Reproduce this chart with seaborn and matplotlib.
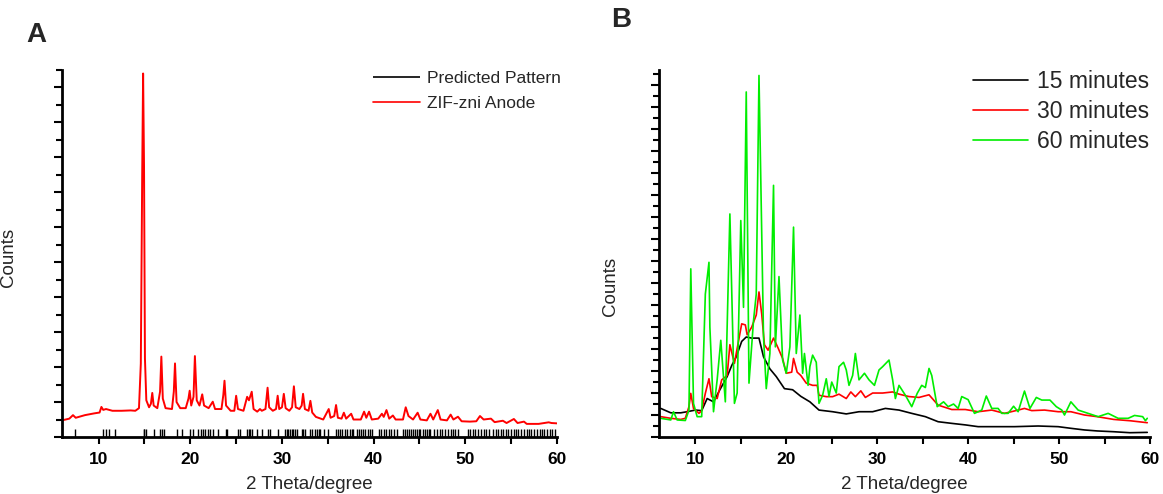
import numpy as np
import pandas as pd
import seaborn as sns
import matplotlib.pyplot as plt
from matplotlib.ticker import MultipleLocator, NullFormatter

# Panel A: ZIF-zni anode pattern (2theta, counts)
zif_theta = [6.0, 6.8, 7.2, 7.5, 8.5, 9.5, 10.1, 10.3, 10.5, 10.8, 11.5, 12.5, 13.5, 14.0,
             14.4, 14.6, 14.75, 14.85, 14.95, 15.05, 15.2, 15.5, 15.7, 15.85, 16.0, 16.4,
             16.7, 16.84, 17.0, 17.3, 18.0, 18.2, 18.33, 18.5, 18.9, 19.5, 19.8, 19.93,
             20.1, 20.35, 20.5, 20.7, 21.0, 21.3, 21.5, 22.0, 22.45, 22.7, 23.4, 23.6,
             23.73, 23.9, 24.4, 24.8, 25.0, 25.2, 25.8, 26.2, 26.4, 26.7, 26.9, 27.3,
             27.6, 27.8, 28.2, 28.43, 28.6, 29.0, 29.35, 29.53, 29.7, 30.0, 30.2, 30.4,
             30.8, 31.1, 31.3, 31.5, 31.9, 32.15, 32.3, 32.5, 32.9, 33.1, 33.3, 33.7,
             34.5, 35.1, 35.3, 35.7, 35.9, 36.1, 36.5, 36.75, 37.0, 37.55, 37.8, 38.6,
             38.96, 39.2, 39.5, 39.8, 40.5, 40.9, 41.1, 41.4, 41.7, 42.1, 42.4, 43.2,
             43.5, 43.8, 44.3, 44.8, 45.1, 45.8, 46.2, 46.5, 47.0, 47.3, 48.0, 48.4,
             48.7, 49.2, 49.6, 50.5, 51.2, 51.6, 52.0, 52.8, 53.2, 54.1, 54.5, 55.3,
             55.7, 56.4, 56.7, 58.0, 59.1, 59.4, 60.0]
zif_counts = [95, 105, 125, 110, 125, 135, 140, 172, 155, 160, 150, 150, 152, 150,
              165, 420, 1500, 2080, 1550, 450, 210, 170, 190, 252, 180, 165,
              260, 460, 220, 165, 160, 260, 421, 200, 165, 165, 220, 265,
              180, 230, 463, 210, 180, 244, 180, 165, 202, 160, 160, 240,
              322, 180, 150, 150, 236, 160, 150, 230, 210, 259, 160, 145,
              160, 150, 160, 282, 170, 150, 160, 236, 160, 170, 247, 165,
              150, 170, 290, 170, 160, 180, 247, 160, 150, 207, 140, 115,
              100, 160, 110, 120, 183, 110, 105, 139, 105, 133, 100, 100,
              145, 110, 145, 100, 105, 133, 115, 154, 105, 123, 100, 100,
              170, 120, 100, 139, 100, 95, 133, 100, 154, 100, 95, 128,
              100, 116, 90, 88, 90, 120, 100, 105, 85, 93, 80, 103,
              80, 88, 75, 75, 84, 80, 78]

# Predicted reflection positions (2theta)
predicted_theta = [7.45, 10.47, 10.8, 11.1, 11.8, 14.9, 15.0, 15.2, 16.0, 16.7, 16.9, 17.1,
                   18.5, 19.1, 20.0, 20.3, 20.85, 21.2, 21.4, 21.6, 21.9, 22.1, 22.5, 23.0,
                   23.9, 24.0, 25.2, 25.4, 26.2, 26.35, 26.5, 26.7, 27.3, 27.8, 28.5, 28.7,
                   29.6, 30.3, 30.5, 30.7, 30.9, 31.1, 31.2, 31.4, 31.6, 32.2, 32.3, 32.5,
                   33.1, 33.3, 33.55, 33.8, 34.0, 34.2, 34.55, 35.0, 35.9, 36.1, 36.35,
                   36.55, 36.85, 37.1, 37.4, 37.6, 37.8, 38.2, 38.4, 38.6, 38.85, 39.1,
                   39.35, 39.55, 39.85, 40.55, 40.8, 41.1, 41.4, 41.7, 41.9, 42.2, 42.5,
                   43.2, 43.4, 43.65, 43.85, 44.1, 44.3, 44.5, 44.7, 44.9, 45.1, 45.35,
                   45.55, 45.8, 46.0, 46.2, 46.6, 46.9, 47.2, 47.5, 47.8, 48.1, 48.4, 48.7,
                   48.9, 49.2, 50.3, 50.5, 50.8, 51.1, 51.4, 51.7, 52.0, 52.3, 52.6, 53.0,
                   53.3, 53.6, 53.85, 54.1, 54.4, 54.7, 55.0, 55.3, 55.55, 55.8, 56.1,
                   56.4, 56.7, 56.95, 57.2, 57.5, 57.8, 58.1, 58.35, 58.6, 58.9, 59.2,
                   59.5, 59.8]

# Panel B: reaction time series
m15_theta = [6.2, 7.3, 8.4, 9.1, 10.0, 10.7, 11.3, 12.0, 12.7, 13.5, 14.0, 14.5, 15.1,
             15.6, 16.2, 17.0, 17.5, 18.2, 18.9, 19.8, 20.7, 21.6, 22.6, 23.6, 25.1,
             26.6, 28.0, 29.5, 30.9, 32.4, 33.8, 35.3, 36.7, 38.2, 39.7, 41.1, 43.3,
             45.1, 47.7, 49.9, 51.3, 52.8, 54.2, 56.0, 57.8, 59.7]
m15_counts = [26, 22, 22, 23, 24.5, 24, 35, 32, 43, 55, 65, 73, 87,
              91, 90, 90, 73, 62, 55, 44, 43, 37, 32, 24.5, 23,
              21, 23, 23, 26, 24.5, 21.5, 18.5, 13.9, 12.4, 11, 9.4, 9.4,
              9.4, 10, 9.4, 7.9, 6.4, 5.5, 4.8, 3.9, 4.2]

m30_theta = [6.2, 7.3, 8.4, 8.9, 9.3, 9.5, 9.8, 10.4, 10.7, 11.1, 11.5, 11.8, 12.4,
             12.9, 13.5, 13.8, 14.3, 14.7, 15.1, 15.5, 15.7, 16.2, 16.7, 17.0, 17.3,
             17.6, 18.0, 18.6, 19.1, 19.6, 20.0, 20.6, 20.8, 21.2, 21.6, 22.2, 22.9,
             23.4, 23.6, 24.4, 25.1, 25.8, 26.6, 27.1, 27.6, 28.2, 28.7, 29.5, 30.6,
             31.7, 32.4, 33.5, 34.6, 35.7, 36.7, 38.2, 39.7, 41.1, 42.6, 44.0, 45.5,
             46.2, 47.0, 48.4, 49.9, 51.3, 52.8, 54.2, 56.0, 57.8, 59.7]
m30_counts = [18.5, 17, 16, 17, 27.6, 39.7, 26, 21.5, 24, 39.7, 53, 36.7, 35,
              52, 56, 84, 67, 85, 103, 102, 93, 100, 111, 132, 112,
              84, 79, 90, 81, 71.5, 58, 59, 71.5, 59, 56, 49, 47,
              47, 38, 36.7, 36.7, 39, 35, 41, 36.7, 42, 36, 40, 40,
              41, 39, 36.8, 36, 38.4, 29, 25, 25, 23, 24.5, 21.5, 24.5,
              26, 24, 24.5, 23, 23, 20, 18.5, 16, 14.8, 13]

m60_theta = [6.2, 7.3, 7.6, 8.0, 8.9, 9.3, 9.5, 9.8, 10.2, 10.7, 11.1, 11.5, 11.6,
             12.0, 12.4, 12.8, 13.3, 13.8, 14.3, 14.6, 15.0, 15.3, 15.6, 15.9, 16.4,
             16.7, 17.0, 17.5, 17.8, 18.2, 18.6, 18.8, 19.2, 19.6, 20.0, 20.4, 20.8,
             21.1, 21.5, 21.8, 22.0, 22.4, 22.6, 22.9, 23.3, 23.6, 24.0, 24.4, 24.7,
             25.0, 25.5, 25.8, 26.3, 26.6, 26.9, 27.3, 27.6, 28.0, 28.6, 29.1, 29.7,
             30.2, 30.6, 31.3, 31.7, 32.0, 32.4, 33.1, 33.8, 34.4, 34.9, 35.3, 35.7,
             36.0, 36.6, 37.3, 37.8, 38.4, 38.9, 39.3, 40.0, 40.7, 41.5, 42.0, 42.6,
             43.3, 43.7, 44.4, 45.0, 45.5, 46.2, 46.8, 47.5, 48.1, 49.0, 49.7, 50.3,
             50.6, 51.3, 52.1, 53.2, 54.3, 55.4, 56.5, 57.6, 58.3, 59.2, 59.5, 59.7]
m60_counts = [17, 15.5, 23, 15.5, 15, 24.5, 153, 30.6, 18.5, 18.5, 130, 159, 100,
              23, 52, 88, 32, 203, 30.6, 40, 197, 118, 314, 49, 106,
              130, 329, 91, 44, 76, 229, 82, 146, 70, 58, 82, 191,
              76, 111, 58, 76, 47, 64, 74.5, 68, 30.6, 38, 53, 37,
              50, 40, 64, 68, 61, 47, 56, 76, 52, 58, 52, 47,
              61, 64, 70, 52, 35, 47, 38, 27.6, 39.7, 47, 45, 62.4,
              56, 27.6, 32, 27.6, 30, 26, 36.8, 34, 21.5, 24.5, 37.3, 26,
              26, 21.5, 21.5, 28, 23, 41.8, 26, 36, 33.6, 33.6, 27.6, 24.5,
              20, 32, 24.5, 21.5, 18.5, 21.5, 17, 17, 19.6, 18.5, 14.8, 17]

sns.set_style("ticks")
plt.rcParams['font.family'] = ['Liberation Sans', 'DejaVu Sans']

fig = plt.figure(figsize=(11.63, 4.94), dpi=100)
ax_a = fig.add_axes([0.0533, 0.1154, 0.4256, 0.7429])
ax_b = fig.add_axes([0.5666, 0.1154, 0.4222, 0.7429])

# Panel A
sns.rugplot(x=predicted_theta, height=0.022, color="black", linewidth=1.0,
            ax=ax_a, label="Predicted Pattern")
sns.lineplot(x=zif_theta, y=zif_counts, color="#ff0000", linewidth=1.4,
             ax=ax_a, label="ZIF-zni Anode")
ax_a.set_ylim(0, 2100)
ax_a.yaxis.set_major_locator(MultipleLocator(200))
ax_a.yaxis.set_minor_locator(MultipleLocator(100))

# Panel B
for th, cts, col, lab in [(m15_theta, m15_counts, "black", "15 minutes"),
                          (m30_theta, m30_counts, "#ff0000", "30 minutes"),
                          (m60_theta, m60_counts, "#00ee00", "60 minutes")]:
    sns.lineplot(x=th, y=cts, color=col, linewidth=1.2, ax=ax_b, label=lab)
ax_b.set_ylim(0, 334)
ax_b.yaxis.set_major_locator(MultipleLocator(20))
ax_b.yaxis.set_minor_locator(MultipleLocator(10))

for ax in (ax_a, ax_b):
    ax.set_xlim(6, 60)
    ax.xaxis.set_major_locator(MultipleLocator(10))
    ax.xaxis.set_minor_locator(MultipleLocator(5))
    ax.yaxis.set_major_formatter(NullFormatter())
    sns.despine(ax=ax)
    for s in ("left", "bottom"):
        ax.spines[s].set_linewidth(2)
        ax.spines[s].set_color("black")
    ax.tick_params(axis="x", which="both", direction="out", length=5, width=1.5,
                   colors="black", labelsize=12.5, pad=6)
    ax.tick_params(axis="y", which="major", direction="out", length=6, width=1.5, colors="black")
    ax.tick_params(axis="y", which="minor", direction="out", length=4, width=1.5, colors="black")
    for lbl in ax.get_xticklabels():
        lbl.set_fontweight("bold")
    ax.set_xlabel("2 Theta/degree", fontsize=13.5, labelpad=6)
    ax.set_ylabel("Counts", fontsize=13.5)

ax_a.yaxis.set_label_coords(-0.091, 0.49)
ax_b.yaxis.set_label_coords(-0.082, 0.41)

ax_a.legend(loc="upper right", bbox_to_anchor=(1.04, 1.04), frameon=False,
            fontsize=12.5, handlelength=2.75, labelspacing=0.55, handletextpad=0.4)
ax_b.legend(loc="upper right", bbox_to_anchor=(1.04, 1.055), frameon=False,
            fontsize=16.5, handlelength=2.4, labelspacing=0.3, handletextpad=0.4)
for leg in (ax_a.get_legend(), ax_b.get_legend()):
    for h in leg.get_lines():
        h.set_linewidth(1.2)

fig.text(0.031, 0.93, "A", fontsize=20, fontweight="bold", ha="center", va="center")
fig.text(0.534, 0.96, "B", fontsize=20, fontweight="bold", ha="center", va="center")

fig.savefig("out.png", dpi=100)
